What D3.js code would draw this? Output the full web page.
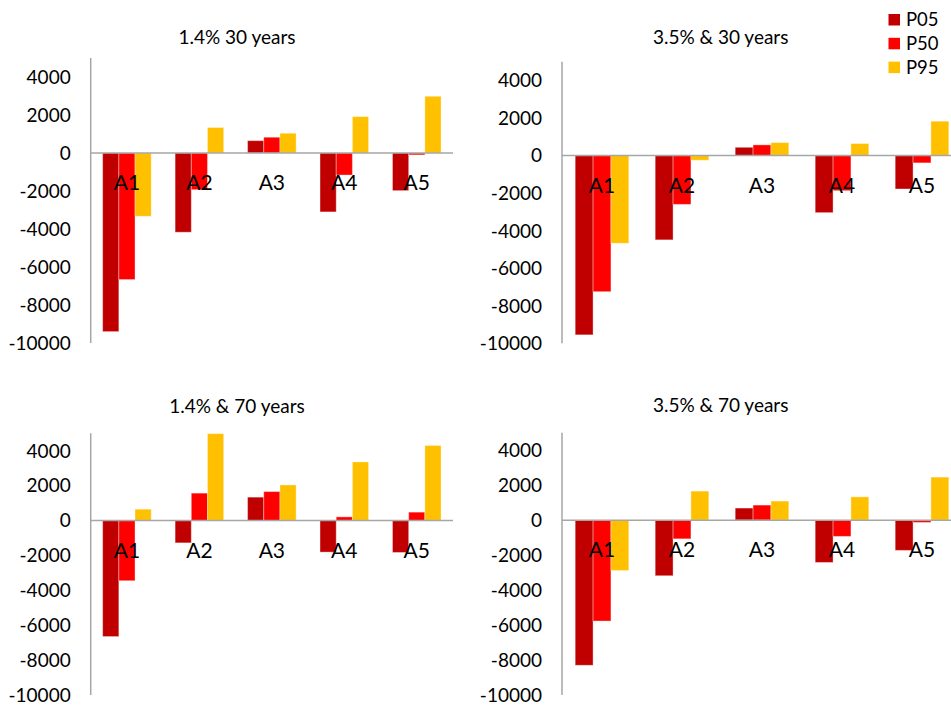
<!DOCTYPE html>
<html>
<head>
<meta charset="utf-8">
<script src="https://cdn.jsdelivr.net/npm/d3@7"></script>
<style>
  body { margin: 0; background: #fff; }
  svg text { font-family: Lato, "Open Sans", sans-serif; fill: #000; }
</style>
</head>
<body>
<div class="canva"></div>
<script>
const categories = ["A1", "A2", "A3", "A4", "A5"];
const series = ["P05", "P50", "P95"];
const colors = ["#C00000", "#FF0000", "#FFC000"];
const yTicks = [-10000, -8000, -6000, -4000, -2000, 0, 2000, 4000];
const titles = ["1.4% 30 years", "3.5% & 30 years", "1.4% & 70 years", "3.5% & 70 years"];

// values read per panel, per series (A1..A5)
const p05_14_30 = [-9400, -4170, 650, -3100, -1980];
const p50_14_30 = [-6660, -1930, 830, -1160, -100];
const p95_14_30 = [-3330, 1340, 1040, 1915, 2985];

const p05_35_30 = [-9550, -4490, 440, -3040, -1780];
const p50_35_30 = [-7250, -2600, 570, -1870, -390];
const p95_35_30 = [-4670, -250, 690, 640, 1830];

const p05_14_70 = [-6650, -1280, 1340, -1810, -1830];
const p50_14_70 = [-3450, 1570, 1660, 210, 480];
const p95_14_70 = [650, 4980, 2040, 3360, 4300];

const p05_35_70 = [-8300, -3180, 690, -2420, -1730];
const p50_35_70 = [-5770, -1070, 860, -930, -130];
const p95_35_70 = [-2880, 1660, 1090, 1330, 2460];

const panelData = [
  [p05_14_30, p50_14_30, p95_14_30],
  [p05_35_30, p50_35_30, p95_35_30],
  [p05_14_70, p50_14_70, p95_14_70],
  [p05_35_70, p50_35_70, p95_35_70]
];

// layout of each small chart: axis x, plot width, top/bottom of y range, title centre
const panels = [
  {x: 90.7, w: 362.3, top: 58,    bottom: 343,   tx: 237,   ty: 37.7},
  {x: 562,  w: 400,   top: 61.7,  bottom: 343.3, tx: 720.7, ty: 37.7},
  {x: 90.7, w: 362.3, top: 433.3, bottom: 695,   tx: 237,   ty: 406.7},
  {x: 562,  w: 400,   top: 432.7, bottom: 695,   tx: 720.7, ty: 405.7}
];

const svg = d3.select(".canva").append("svg")
  .attr("width", 951)
  .attr("height", 705);

panels.forEach((p, i) => {
  const g = svg.append("g");
  const data = panelData[i];

  const y = d3.scaleLinear()
    .domain([-10000, 5000])
    .range([p.bottom, p.top]);

  const x0 = d3.scaleBand()
    .domain(categories)
    .range([p.x, p.x + p.w])
    .paddingInner(0.33)
    .paddingOuter(0.165);

  const x1 = d3.scaleBand()
    .domain(series)
    .range([0, x0.bandwidth()]);

  // title
  g.append("text")
    .attr("x", p.tx)
    .attr("y", p.ty)
    .attr("dy", "0.35em")
    .attr("text-anchor", "middle")
    .style("font-size", "19px")
    .text(titles[i]);

  // bars
  series.forEach((s, si) => {
    g.selectAll(".bar-" + s)
      .data(categories)
      .enter().append("rect")
      .attr("x", c => x0(c) + x1(s))
      .attr("width", x1.bandwidth())
      .attr("y", (c, ci) => y(Math.max(0, data[si][ci])))
      .attr("height", (c, ci) => Math.abs(y(data[si][ci]) - y(0)))
      .attr("fill", colors[si])
      .attr("stroke", "rgba(255,255,255,0.35)")
      .attr("stroke-width", 1);
  });

  // y axis: line and labels, no tick marks
  g.append("line")
    .attr("x1", p.x).attr("x2", p.x)
    .attr("y1", y(5000)).attr("y2", y(-10000))
    .attr("stroke", "#a6a6a6")
    .attr("stroke-width", 1.5);

  g.selectAll(".ytick")
    .data(yTicks)
    .enter().append("text")
    .attr("x", p.x - 20)
    .attr("y", d => y(d))
    .attr("dy", "0.36em")
    .attr("text-anchor", "end")
    .style("font-size", "19px")
    .text(d => d);

  // zero line
  g.append("line")
    .attr("x1", p.x).attr("x2", p.x + p.w)
    .attr("y1", y(0)).attr("y2", y(0))
    .attr("stroke", "#a6a6a6")
    .attr("stroke-width", 1.5);

  // category labels sit below the zero line, over the bars
  g.selectAll(".xlab")
    .data(categories)
    .enter().append("text")
    .attr("x", c => x0(c) + x0.bandwidth() / 2)
    .attr("y", y(0) + 37)
    .attr("text-anchor", "middle")
    .style("font-size", "21px")
    .text(c => c);
});

// legend
const legend = svg.append("g");
series.forEach((s, i) => {
  legend.append("rect")
    .attr("x", 888.5)
    .attr("y", 14 + i * 23.8)
    .attr("width", 11.5)
    .attr("height", 11.5)
    .attr("fill", colors[i]);
  legend.append("text")
    .attr("x", 906)
    .attr("y", 19.8 + i * 23.8)
    .attr("dy", "0.36em")
    .style("font-size", "18.5px")
    .text(s);
});
</script>
</body>
</html>
